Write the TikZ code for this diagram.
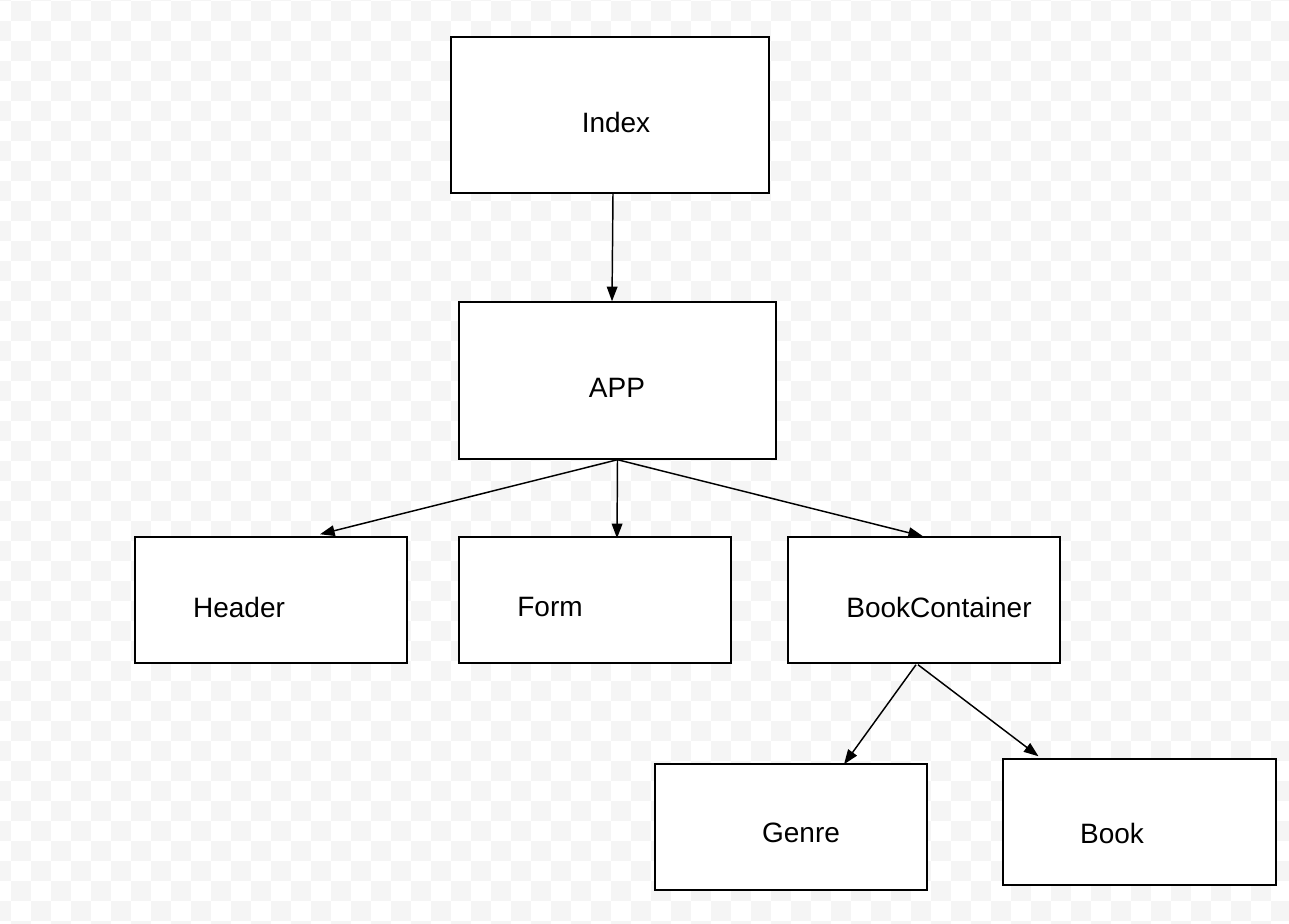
\documentclass[tikz,border=0pt]{standalone}
\usepackage{fontspec}
\setmainfont{Liberation Sans}
\usetikzlibrary{calc,arrows.meta}
\definecolor{checker}{HTML}{F5F5F5}
\tikzset{
  box/.style={draw=black, fill=white, line width=1.1pt, rectangle, inner sep=0pt},
  lbl/.style={font=\fontsize{21}{25}\selectfont, inner sep=0pt, text=black},
  arr/.style={draw=black, line width=1.1pt, -{Triangle[length=11pt,width=8pt]}}
}
\begin{document}
\begin{tikzpicture}[x=0.75pt,y=-0.75pt]
\useasboundingbox (0,0) rectangle (1289,924);
\fill[white] (0,0) rectangle (1289,924);
\begin{scope}
\clip (0,0) rectangle (1289,924);
\foreach \r in {0,...,47} {
  \pgfmathtruncatemacro\off{mod(\r+1,2)}
  \foreach \k in {-1,...,32} {
    \fill[checker] ({11+20*(2*\k+\off)},{1+20*(\r-1)}) rectangle +(20,20);
  }
}
\end{scope}
% boxes
\node[box, minimum width=238.5pt, minimum height=117pt] (index) at (610,115) {};
\node[box, minimum width=237.75pt, minimum height=117.75pt] (app) at (617.5,380.5) {};
\node[box, minimum width=204pt, minimum height=94.5pt] (header) at (271,600) {};
\node[box, minimum width=204pt, minimum height=94.5pt] (form) at (595,600) {};
\node[box, minimum width=204pt, minimum height=94.5pt] (bc) at (924,600) {};
\node[box, minimum width=204pt, minimum height=94.5pt] (genre) at (791,827) {};
\node[box, minimum width=204.75pt, minimum height=94.5pt] (book) at (1139.5,822) {};
% labels
\node[lbl] (tindex) at (616,122) {Index};
\node[lbl] (tapp) at (617,388) {APP};
\node[lbl] (theader) at (239,607) {Header};
\node[lbl] (tform) at (550,607) {Form};
\node[lbl] (tbc) at (939,607) {BookContainer};
\node[lbl] (tgenre) at (801,833) {Genre};
\node[lbl] (tbook) at (1112,833) {Book};
% connectors
\draw[arr] ($(index.south)+(3,0)$) -- ($(app.north)+(-5.5,0)$);
\draw[arr] (app.south) -- ($(header.north)+(49,-2)$);
\draw[arr] (app.south) -- ($(form.north)+(22,2)$);
\draw[arr] (app.south) -- ($(bc.north)+(-1,0)$);
\draw[arr] ($(bc.south)+(-8,1)$) -- ($(genre.north)+(53,1)$);
\draw[arr] ($(bc.south)+(-6,1)$) -- ($(book.north)+(-101,-2)$);
\end{tikzpicture}
\end{document}
